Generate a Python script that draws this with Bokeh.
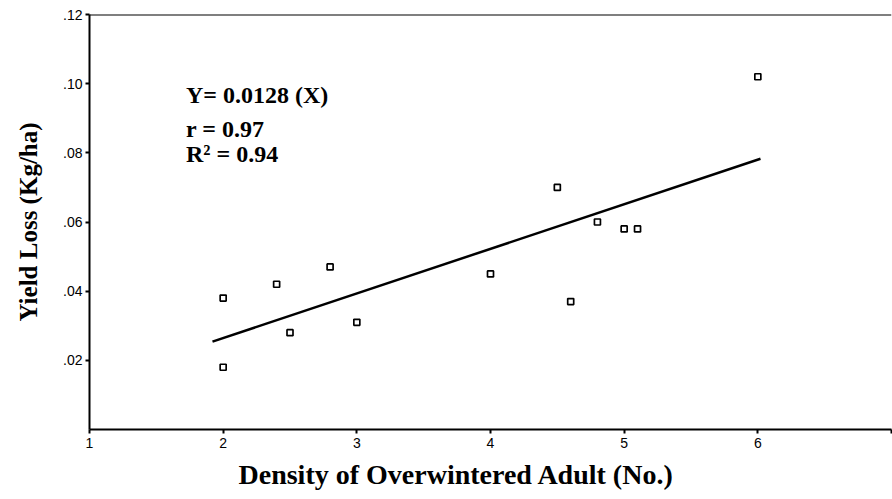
from bokeh.plotting import figure
from bokeh.models import FixedTicker, Label, Span, Title
from bokeh.embed import file_html
from bokeh.resources import INLINE

# ---- data ----
density = [2.0, 2.0, 2.4, 2.5, 2.8, 3.0, 4.0, 4.5, 4.6, 4.8, 5.0, 5.1, 6.0]
yield_loss = [0.038, 0.018, 0.042, 0.028, 0.047, 0.031, 0.045, 0.070, 0.037,
              0.060, 0.058, 0.058, 0.102]
fit_x = [1.92, 6.02]
fit_y = [0.0254, 0.0783]

x_ticks = [1, 2, 3, 4, 5, 6, 7]
x_tick_labels = ["1", "2", "3", "4", "5", "6", ""]
y_ticks = [0.02, 0.04, 0.06, 0.08, 0.10, 0.12]
y_tick_labels = [".02", ".04", ".06", ".08", ".10", ".12"]

eq_lines = ["Y= 0.0128 (X)", "r = 0.97", "R\u00b2 = 0.94"]
x_title = "Density of Overwintered Adult (No.)"
y_title = "Yield Loss (Kg/ha)"

p = figure(width=892, height=499, output_backend="svg", toolbar_location=None,
           x_range=(1, 7), y_range=(0, 0.12),
           min_border_left=89, min_border_right=1, min_border_top=14,
           min_border_bottom=70)
p.outline_line_color = None
p.grid.visible = False
p.background_fill_color = "white"
p.border_fill_color = "white"

for ax in (p.xaxis[0], p.yaxis[0]):
    ax.axis_line_width = 2
    ax.axis_line_color = "black"
    ax.major_tick_line_color = "black"
    ax.major_tick_line_width = 2
    ax.major_tick_out = 4
    ax.major_tick_in = 0
    ax.minor_tick_line_color = None
    ax.major_label_text_font = "Liberation Sans"
    ax.major_label_text_font_size = "14px"
    ax.major_label_text_color = "black"

p.xaxis.ticker = FixedTicker(ticks=x_ticks)
p.xaxis.major_label_overrides = {t: l for t, l in zip(x_ticks, x_tick_labels)}
p.xaxis.major_label_standoff = 4

p.yaxis.ticker = FixedTicker(ticks=y_ticks)
p.yaxis.major_label_overrides = {t: l for t, l in zip(y_ticks, y_tick_labels)}
p.yaxis.major_label_standoff = 3
p.yaxis.axis_label = y_title
p.yaxis.axis_label_text_font = "Liberation Serif"
p.yaxis.axis_label_text_font_style = "bold"
p.yaxis.axis_label_text_font_size = "25px"
p.yaxis.axis_label_text_color = "black"
p.yaxis.axis_label_standoff = 18

p.add_layout(Span(location=0.12, dimension="width", line_color="black", line_width=2))

p.line(fit_x, fit_y, line_color="black", line_width=2.5)
p.scatter(density, yield_loss, marker="square", size=6, fill_color="white",
          line_color="black", line_width=1.7)

eq_y = [0.0966, 0.0868, 0.0798]
for txt, yy in zip(eq_lines, eq_y):
    p.add_layout(Label(x=1.722, y=yy, text=txt, text_font="Liberation Serif",
                       text_font_style="bold", text_font_size="24px",
                       text_color="black", text_baseline="alphabetic"))

p.add_layout(Title(text=x_title, align="left", offset=149, standoff=13,
                   vertical_align="bottom", text_line_height=0.75,
                   text_font="Liberation Serif", text_font_style="bold",
                   text_font_size="28px", text_color="black"), "below")

open("out.html", "w").write(file_html(p, INLINE))
